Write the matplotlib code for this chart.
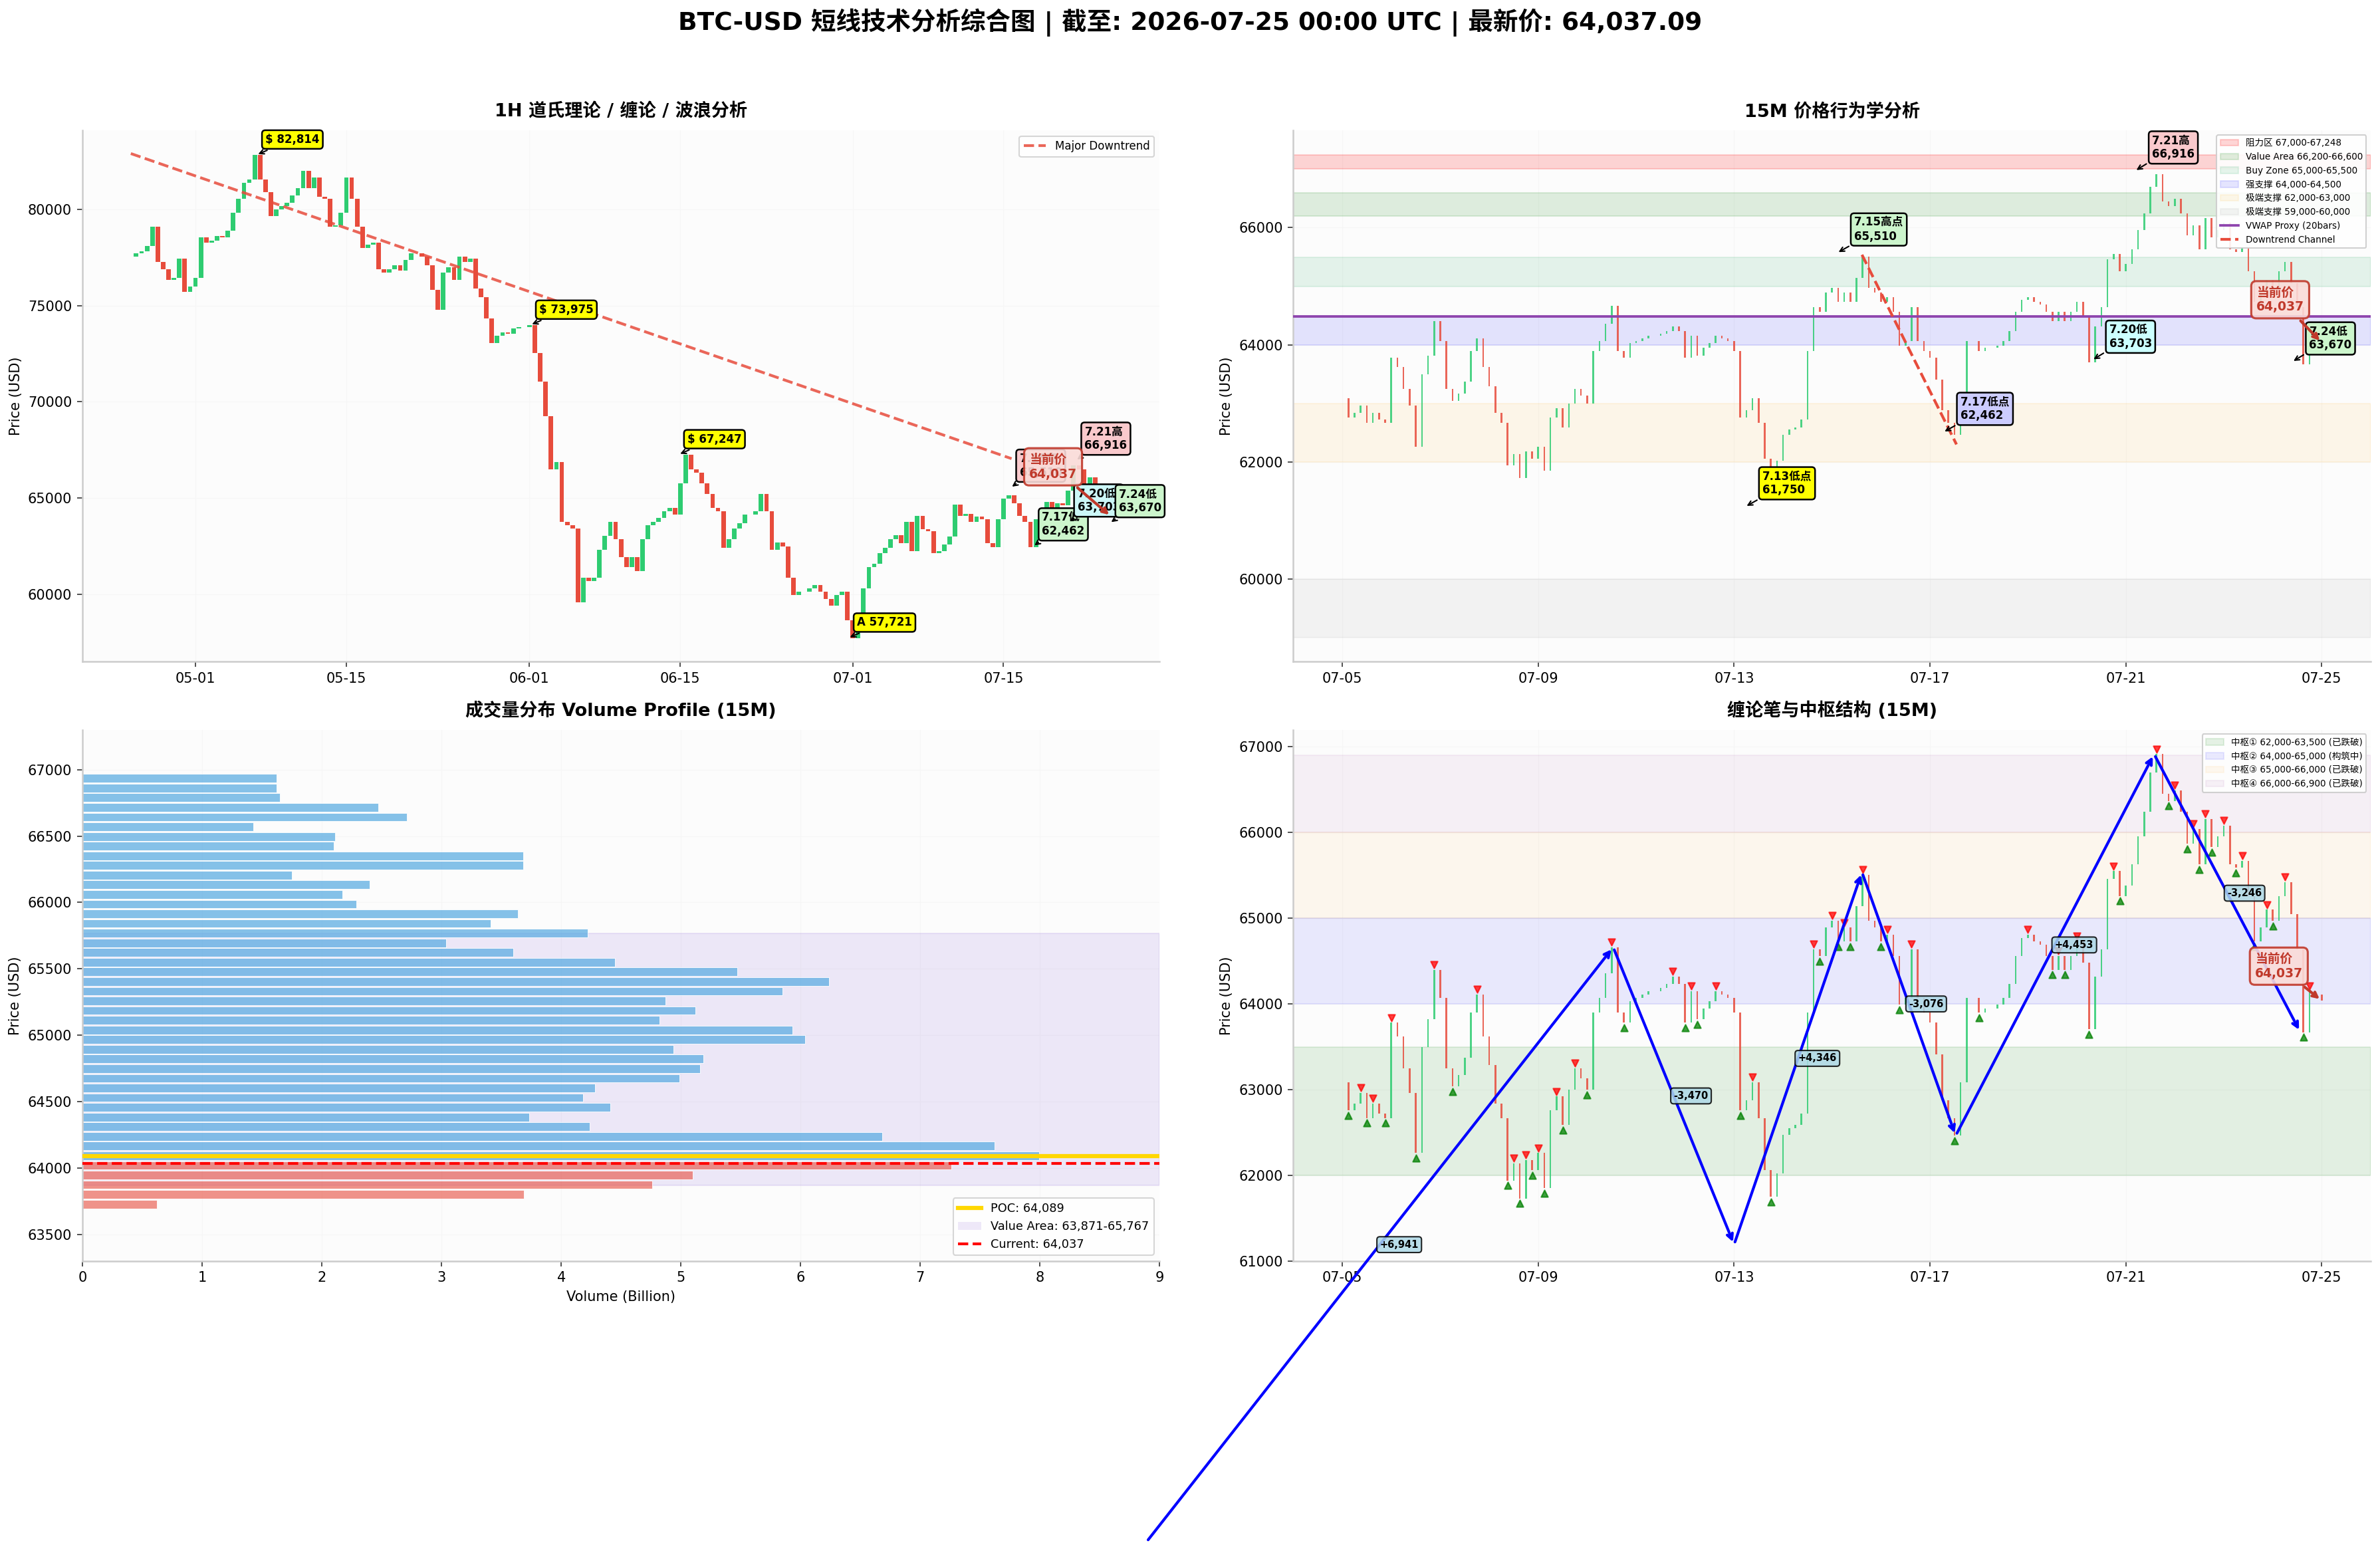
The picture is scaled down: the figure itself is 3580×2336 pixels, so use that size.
import numpy as np
import pandas as pd
import matplotlib
matplotlib.use('Agg')
import matplotlib.pyplot as plt
import matplotlib.dates as mdates
from matplotlib.colors import to_rgba
from matplotlib.patches import Patch
from matplotlib.lines import Line2D

plt.rcParams['font.family'] = ['DejaVu Sans', 'Noto Sans CJK SC']
plt.rcParams['axes.unicode_minus'] = False

# ---- data ----
# 1H panel: closes every 12h, 2026-04-25 00:00 .. 2026-07-04 12:00
h1_close = [
    77540, 77720, 77810, 78090, 79090, 77270, 76900, 76350, 76440, 77450,
    75720, 75990, 76440, 78540, 78270, 78360, 78630, 78540, 78910, 79820,
    80550, 81370, 81550, 82814, 81550, 80910, 79640, 80000, 80180, 80360,
    80730, 81090, 82000, 81090, 81640, 80640, 80550, 79090, 79180, 79820,
    81640, 80550, 79090, 77990, 78180, 78270, 76900, 76720, 76900, 77080,
    76810, 77360, 77720, 77720, 77540, 77080, 75810, 74800, 76720, 76990,
    76350, 77540, 77270, 77450, 75900, 75440, 74350, 73070, 73440, 73620,
    73530, 73800, 73890, 73890, 73975, 72530, 71070, 69240, 66510, 66870,
    63780, 63590, 63410, 59600, 60860, 60680, 60860, 62320, 63050, 63780,
    62860, 61950, 61410, 61950, 61220, 62860, 63590, 63780, 63960, 64320,
    64500, 64140, 65780, 67247, 66510, 66330, 65780, 65230, 64500, 64320,
    62410, 62860, 63410, 63680, 64140, 64140, 64320, 65230, 64320, 62320,
    62680, 62500, 60860, 59950, 60130, 60130, 60310, 60490, 60130, 59760,
    59400, 59950, 60130, 58670, 57721, 58670, 60310, 61410, 61590, 62140,
    62410, 62860,
]

# 15M panels: closes every 3h, 2026-07-05 00:00 .. 2026-07-25 00:00
m15_close = [
    63085, 62760, 62840, 62960, 62670, 62840, 62720, 62670,   # 07-05
    63780, 63620, 63250, 62960, 62260, 63500, 63820, 64400,   # 07-06
    64070, 63250, 63040, 63170, 63370, 63900, 64110, 63620,   # 07-07
    63290, 62840, 62670, 61940, 62140, 61730, 62180, 62060,   # 07-08
    62260, 61850, 62760, 62920, 62590, 63000, 63250, 63130,   # 07-09
    63000, 63900, 64070, 64360, 64662, 63900, 63780, 64030,   # 07-10
    64070, 64110, 64150, 64150, 64190, 64230, 64320, 64230,   # 07-11
    63780, 64150, 63820, 63950, 64030, 64150, 64110, 64070,   # 07-12
    63900, 62760, 62880, 63085, 62670, 62060, 61750, 62020,   # 07-13
    62470, 62550, 62590, 62720, 63900, 64640, 64560, 64890,   # 07-14
    64970, 64730, 64890, 64730, 65140, 65510, 64970, 64890,   # 07-15
    64730, 64810, 64560, 63990, 64070, 64640, 64070, 63900,   # 07-16
    63780, 63410, 62880, 62670, 62462, 63085, 64070, 64070,   # 07-17
    63900, 63950, 63950, 63990, 64070, 64230, 64560, 64770,   # 07-18
    64810, 64730, 64690, 64560, 64400, 64560, 64400, 64560,   # 07-19
    64730, 64480, 63703, 64320, 64640, 65460, 65550, 65260,   # 07-20
    65380, 65630, 65960, 66240, 66700, 66916, 66450, 66370,   # 07-21
    66490, 66240, 65870, 66040, 65630, 66160, 65830, 65960,   # 07-22
    66080, 65630, 65590, 65670, 65260, 64730, 64890, 65100,   # 07-23
    64970, 65260, 65420, 65050, 64640, 63670, 64150, 64110,   # 07-24
    64037,                                                    # 07-25
]
current_price = 64037
latest_price = 64037.09

# major downtrend line on the 1H chart
trend_times = ['2026-04-25 00:00', '2026-07-15 18:00']
trend_prices = [82900, 67050]

# 1H swing labels: time, price, text, face colour
h1_swing_times = ['2026-05-06 14:00', '2026-06-01 00:00', '2026-06-14 18:00', '2026-06-30 12:00']
h1_swing_prices = [82814, 73975, 67247, 57721]
h1_swing_texts = ['$ 82,814', '$ 73,975', '$ 67,247', 'A 57,721']
h1_key_times = ['2026-07-15 14:00', '2026-07-17 16:00', '2026-07-21 15:00', '2026-07-20 23:00', '2026-07-24 19:00']
h1_key_prices = [65510, 62462, 66916, 63703, 63670]
h1_key_texts = ['7.15高\n65,510', '7.17低\n62,462', '7.21高\n66,916', '7.20低\n63,703', '7.24低\n63,670']
h1_key_colors = ['#f9c9cc', '#ccf5cc', '#f9c9cc', '#ccf7f7', '#ccf5cc']

# 15M price-action zones
pa_zone_low = [67000, 66200, 65000, 64000, 62000, 59000]
pa_zone_high = [67248, 66600, 65500, 64500, 63000, 60000]
pa_zone_labels = ['阻力区 67,000-67,248', 'Value Area 66,200-66,600', 'Buy Zone 65,000-65,500',
                  '强支撑 64,000-64,500', '极端支撑 62,000-63,000', '极端支撑 59,000-60,000']
pa_zone_colors = ['red', 'green', 'mediumseagreen', 'blue', 'orange', 'gray']
pa_zone_alpha = [0.16, 0.12, 0.13, 0.10, 0.08, 0.08]
vwap_proxy = 64480
channel_times = ['2026-07-15 14:40', '2026-07-17 13:00']
channel_prices = [65538, 62300]
pa_key_times = ['2026-07-13 05:00', '2026-07-15 02:00', '2026-07-17 06:00', '2026-07-20 07:00',
                '2026-07-21 04:00', '2026-07-24 09:00']
pa_key_prices = [61227, 65560, 62498, 63729, 66960, 63700]
pa_key_texts = ['7.13低点\n61,750', '7.15高点\n65,510', '7.17低点\n62,462', '7.20低\n63,703',
                '7.21高\n66,916', '7.24低\n63,670']
pa_key_colors = ['yellow', '#ccf5cc', '#ccccff', '#ccffff', '#f9c9cc', '#ccf5cc']

# volume profile (top bin -> bottom bin), billions
vp_volume_top_down = [1.62, 1.62, 1.65, 2.47, 2.71, 1.43, 2.11, 2.10, 3.68, 3.68,
                      1.75, 2.40, 2.17, 2.29, 3.64, 3.41, 4.22, 3.04, 3.60, 4.45,
                      5.47, 6.24, 5.85, 4.87, 5.12, 4.82, 5.93, 6.04, 4.94, 5.19,
                      5.16, 4.99, 4.28, 4.18, 4.41, 3.73, 4.24, 6.68, 7.62, 7.99,
                      7.26, 5.10, 4.76, 3.69, 0.62]
vp_bottom_bin, vp_top_bin = 63729, 66934
poc_price = 64089
value_area = (63871, 65767)

# chan bi (stroke) end points and pivot zones
bi_times = ['2026-07-01 00:00', '2026-07-10 12:45', '2026-07-13 00:00', '2026-07-15 14:40',
            '2026-07-17 12:35', '2026-07-21 13:50', '2026-07-24 13:30']
bi_prices = [57721.0, 64662.0, 61192.0, 65538.0, 62462.4, 66915.6, 63669.8]
zs_low = [62000, 64000, 65000, 66000]
zs_high = [63500, 65000, 66000, 66900]
zs_labels = ['中枢① 62,000-63,500 (已跌破)', '中枢② 64,000-65,000 (构筑中)',
             '中枢③ 65,000-66,000 (已跌破)', '中枢④ 66,000-66,900 (已跌破)']
zs_colors = ['green', 'blue', 'orange', 'purple']
zs_alpha = [0.10, 0.08, 0.06, 0.05]

UP, DOWN = '#2ECC71', '#E74C3C'

# ---- helpers ----
def candles(ax, times, closes, width, alpha=1.0):
    c = np.asarray(closes, float)
    o = np.r_[c[0], c[:-1]]
    col = np.where(c >= o, UP, DOWN)
    ax.bar(mdates.date2num(times), c - o, bottom=o, width=width, color=col,
           alpha=alpha, linewidth=0, zorder=3)


def key_label(ax, t, p, text, fc, dx, dy, fs=8):
    ax.annotate(text, xy=(pd.Timestamp(t), p), xytext=(dx, dy), textcoords='offset points',
                ha='left', va='bottom', fontsize=fs, fontweight='bold',
                bbox=dict(boxstyle='round,pad=0.3', fc=fc, ec='black', lw=1.2),
                arrowprops=dict(arrowstyle='->', color='black', lw=1), zorder=6)


def now_label(ax, t, dx, dy):
    ax.annotate(f'当前价\n{current_price:,}', xy=(t, current_price), xytext=(dx, dy),
                textcoords='offset points', ha='center', va='center', multialignment='left',
                fontsize=9, fontweight='bold', color='#C0392B',
                bbox=dict(boxstyle='round,pad=0.4', fc='#FADBD8', ec='#C0392B', lw=1.5, alpha=0.9),
                arrowprops=dict(arrowstyle='->', color='#C0392B', lw=2), zorder=7)


fig, axes = plt.subplots(2, 2, figsize=(3580 / 150, 2336 / 150), dpi=150)
fig.subplots_adjust(left=0.0346, right=0.9961, top=0.916, bottom=0.188, wspace=0.124, hspace=0.128)
ax1, ax2, ax3, ax4 = axes.flat

for ax in axes.flat:
    ax.set_facecolor('#fcfcfc')
    for s in ('top', 'right'):
        ax.spines[s].set_visible(False)
    for s in ('left', 'bottom'):
        ax.spines[s].set_color('#cccccc')
        ax.spines[s].set_linewidth(1.2)
    ax.tick_params(labelsize=10, length=4, color='#333333')
    ax.grid(True, color='#f6f6f6', lw=0.5)
    ax.set_axisbelow(True)

t_m15 = pd.date_range('2026-07-05 00:00', periods=len(m15_close), freq='3h')
t_last = t_m15[-1]

# ---------- 1H ----------
h1_all = h1_close + m15_close[::4]
t_h1 = pd.date_range('2026-04-25 00:00', periods=len(h1_all), freq='12h')
candles(ax1, t_h1, h1_all, width=0.42)
ax1.plot(pd.to_datetime(trend_times), trend_prices, ls='--', color='#E74C3C', alpha=0.85, lw=2,
         label='Major Downtrend', zorder=4)
for t, p, s in zip(h1_swing_times, h1_swing_prices, h1_swing_texts):
    key_label(ax1, t, p, s, 'yellow', 7, 7)
for t, p, s, c in zip(h1_key_times, h1_key_prices, h1_key_texts, h1_key_colors):
    key_label(ax1, t, p, s, c, 7, 7)
now_label(ax1, t_last, -42, 36)
ax1.set_xlim(pd.Timestamp('2026-04-20 12:00'), pd.Timestamp('2026-07-29 12:00'))
ax1.set_ylim(56500, 84100)
ax1.xaxis.set_major_locator(mdates.DayLocator(bymonthday=[1, 15]))
ax1.xaxis.set_major_formatter(mdates.DateFormatter('%m-%d'))
ax1.set_ylabel('Price (USD)', fontsize=10)
ax1.set_title('1H 道氏理论 / 缠论 / 波浪分析', fontsize=13, fontweight='bold', pad=10)
ax1.legend(loc='upper right', fontsize=8)

# ---------- 15M price action ----------
for lo, hi, lab, col, a in zip(pa_zone_low, pa_zone_high, pa_zone_labels, pa_zone_colors, pa_zone_alpha):
    ax2.axhspan(lo, hi, color=col, alpha=a, label=lab, zorder=1)
ax2.axhline(vwap_proxy, color='#8E44AD', lw=1.8, label='VWAP Proxy (20bars)', zorder=4)
ax2.plot(pd.to_datetime(channel_times), channel_prices, ls='--', color='#E74C3C', lw=2,
         label='Downtrend Channel', zorder=5)
candles(ax2, t_m15, m15_close, width=0.035, alpha=0.85)
for t, p, s, c in zip(pa_key_times, pa_key_prices, pa_key_texts, pa_key_colors):
    key_label(ax2, t, p, s, c, 13, 8)
now_label(ax2, t_last, -30, 31)
ax2.set_ylim(58590, 67660)
ax2.set_ylabel('Price (USD)', fontsize=10)
ax2.set_title('15M 价格行为学分析', fontsize=13, fontweight='bold', pad=10)
ax2.legend(loc='upper right', fontsize=6.5, framealpha=0.9)

# ---------- volume profile ----------
vp_volume = np.array(vp_volume_top_down[::-1])
vp_price = np.linspace(vp_bottom_bin, vp_top_bin, len(vp_volume))
step = vp_price[1] - vp_price[0]
vp_col = [to_rgba('#E74C3C', 0.6) if p < current_price else to_rgba('#5DADE2', 0.75) for p in vp_price]
ax3.axhspan(value_area[0], value_area[1], color='mediumpurple', alpha=0.15, zorder=1)
ax3.barh(vp_price, vp_volume, height=step * 0.88, color=vp_col,
         edgecolor='white', linewidth=0.4, zorder=2)
ax3.axhline(poc_price, color='gold', lw=3, zorder=4)
ax3.axhline(current_price, color='red', lw=2, ls='--', zorder=5)
ax3.set_xlim(0, 9)
ax3.set_ylim(63300, 67300)
ax3.set_xlabel('Volume (Billion)', fontsize=10)
ax3.set_ylabel('Price (USD)', fontsize=10)
ax3.set_title('成交量分布 Volume Profile (15M)', fontsize=13, fontweight='bold', pad=10)
ax3.legend(handles=[Line2D([], [], color='gold', lw=3),
                    Patch(facecolor='mediumpurple', alpha=0.15),
                    Line2D([], [], color='red', lw=2, ls='--')],
           labels=[f'POC: {poc_price:,}', f'Value Area: {value_area[0]:,}-{value_area[1]:,}',
                   f'Current: {current_price:,}'],
           loc='lower right', fontsize=8.5)

# ---------- chan structure ----------
for lo, hi, lab, col, a in zip(zs_low, zs_high, zs_labels, zs_colors, zs_alpha):
    ax4.axhspan(lo, hi, color=col, alpha=a, label=lab, zorder=1)
candles(ax4, t_m15, m15_close, width=0.035, alpha=0.85)
c = np.asarray(m15_close, float)
tops = [i for i in range(1, len(c) - 1) if c[i] > c[i - 1] and c[i] > c[i + 1]]
bots = [i for i in range(1, len(c) - 1) if c[i] < c[i - 1] and c[i] < c[i + 1]]
ax4.scatter(t_m15[tops], c[tops] + 60, marker='v', color='red', s=24, alpha=0.75, zorder=4)
ax4.scatter(t_m15[bots], c[bots] - 60, marker='^', color='green', s=24, alpha=0.75, zorder=4)
bt = pd.to_datetime(bi_times)
for i in range(len(bi_prices) - 1):
    ax4.annotate('', xy=(bt[i + 1], bi_prices[i + 1]), xytext=(bt[i], bi_prices[i]),
                 arrowprops=dict(arrowstyle='->', color='blue', lw=2), zorder=5)
    mid_t = bt[i] + (bt[i + 1] - bt[i]) / 2
    mid_p = (bi_prices[i] + bi_prices[i + 1]) / 2
    ax4.text(mid_t, mid_p, f'{bi_prices[i + 1] - bi_prices[i]:+,.0f}', ha='left', va='center',
             fontsize=7, fontweight='bold', zorder=6,
             bbox=dict(boxstyle='round,pad=0.3', fc='lightblue', ec='black', alpha=0.85))
now_label(ax4, t_last, -31, 25)
ax4.set_ylim(61000, 67200)
ax4.set_ylabel('Price (USD)', fontsize=10)
ax4.set_title('缠论笔与中枢结构 (15M)', fontsize=13, fontweight='bold', pad=10)
ax4.legend(loc='upper right', fontsize=6.5, framealpha=0.9)

for ax in (ax2, ax4):
    ax.set_xlim(pd.Timestamp('2026-07-04 00:00'), pd.Timestamp('2026-07-26 00:00'))
    ax.xaxis.set_major_locator(mdates.DayLocator(bymonthday=[1, 5, 9, 13, 17, 21, 25, 29]))
    ax.xaxis.set_major_formatter(mdates.DateFormatter('%m-%d'))

fig.suptitle(f'BTC-USD 短线技术分析综合图 | 截至: 2026-07-25 00:00 UTC | 最新价: {latest_price:,.2f}',
             fontsize=18, fontweight='bold', y=0.9854, va='center')

fig.savefig('out.png', dpi=150)
